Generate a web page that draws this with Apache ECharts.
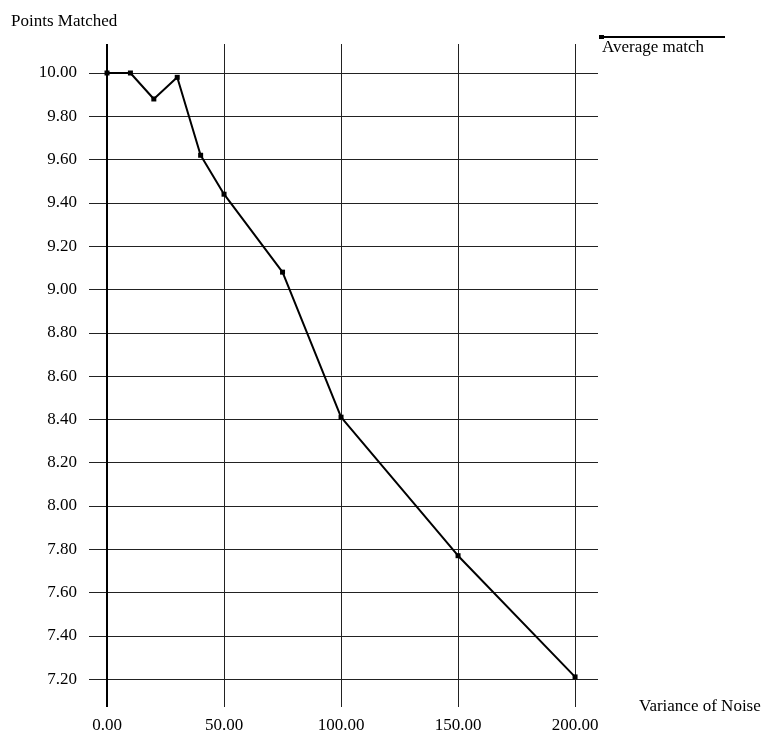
<!DOCTYPE html>
<html>
<head>
<meta charset="utf-8">
<script src="https://cdn.jsdelivr.net/npm/echarts@6/dist/echarts.min.js"></script>
<style>html,body{margin:0;padding:0;background:#fff}#c{width:767px;height:734px}</style>
</head>
<body>
<div id="c"></div>
<script>
// Data
const variance = [0, 10, 20, 30, 40, 50, 75, 100, 150, 200];
const averageMatch = [10.00, 10.00, 9.88, 9.98, 9.62, 9.44, 9.08, 8.41, 7.77, 7.21];
const xTicks = [0, 50, 100, 150, 200];
const yTicks = [7.2, 7.4, 7.6, 7.8, 8.0, 8.2, 8.4, 8.6, 8.8, 9.0, 9.2, 9.4, 9.6, 9.8, 10.0];
const seriesName = 'Average match';
const xTitle = 'Variance of Noise';
const yTitle = 'Points Matched';

const FONT = '"Liberation Serif", "DejaVu Serif", serif';
const chart = echarts.init(document.getElementById('c'), null, {renderer: 'canvas'});
chart.setOption({
  backgroundColor: '#fff',
  animation: false,
  title: {
    text: yTitle, left: 6, top: 8,
    textStyle: {fontFamily: FONT, fontSize: 17, fontWeight: 'normal', color: '#000'}
  },
  grid: {left: 89, right: 169, top: 44, bottom: 26, containLabel: false},
  xAxis: {
    type: 'value', min: -7.7, max: 209.8,
    name: xTitle, nameLocation: 'end', nameGap: 41,
    nameTextStyle: {fontFamily: FONT, fontSize: 17, color: '#000', align: 'left', verticalAlign: 'middle'},
    axisLine: {show: false},
    axisTick: {show: false, customValues: xTicks},
    axisLabel: {customValues: xTicks, margin: 10, fontFamily: FONT, fontSize: 17, color: '#000',
      formatter: v => v.toFixed(2)},
    splitLine: {show: true, lineStyle: {color: '#222', width: 1}}
  },
  yAxis: {
    type: 'value', min: 7.071, max: 10.134,
    axisLine: {show: false},
    axisTick: {show: false, customValues: yTicks},
    axisLabel: {customValues: yTicks, margin: 12, fontFamily: FONT, fontSize: 17, color: '#000',
      formatter: v => v.toFixed(2)},
    splitLine: {show: true, lineStyle: {color: '#222', width: 1}}
  },
  series: [{
    name: seriesName,
    type: 'line',
    data: variance.map((x, i) => [x, averageMatch[i]]),
    symbol: 'rect', symbolSize: 5,
    lineStyle: {color: '#000', width: 2},
    itemStyle: {color: '#000'},
    markLine: {
      silent: true, symbol: 'none', label: {show: false},
      lineStyle: {color: '#000', width: 2, type: 'solid'},
      data: [{xAxis: 0}]
    }
  }],
  graphic: [
    {type: 'line', shape: {x1: 601, y1: 37, x2: 725, y2: 37}, style: {stroke: '#000', lineWidth: 2}},
    {type: 'rect', shape: {x: 599, y: 35, width: 5, height: 4}, style: {fill: '#000'}},
    {type: 'text', left: 602, top: 39, style: {text: seriesName, font: '17px ' + FONT, fill: '#000'}}
  ]
});
</script>
</body>
</html>
